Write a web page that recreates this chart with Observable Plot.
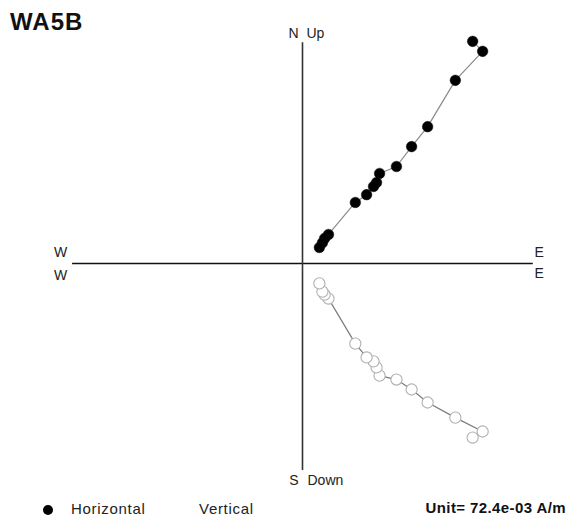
<!DOCTYPE html>
<html>
<head>
<meta charset="utf-8">
<script src="https://cdn.jsdelivr.net/npm/d3@7"></script>
<script src="https://cdn.jsdelivr.net/npm/@observablehq/plot@0.6"></script>
<style>
  html, body { margin: 0; padding: 0; background: #fff; }
  #wrap { position: relative; width: 568px; height: 522px; font-family: "Liberation Sans", Arial, sans-serif; }
  #wrap svg { position: absolute; left: 0; top: 0; }
  .title { position: absolute; left: 10px; top: 8px; font-size: 24px; font-weight: bold; color: #111; letter-spacing: 1px; }
  .legend { position: absolute; top: 500px; font-size: 15px; color: #222; letter-spacing: 0.7px; }
  .unit { position: absolute; top: 499px; right: 2px; font-size: 15px; font-weight: bold; color: #111; letter-spacing: 0.4px; }
  .ldot { position: absolute; left: 43px; top: 505px; width: 10px; height: 10px; border-radius: 50%; background: #000; }
</style>
</head>
<body>
<div id="wrap"></div>
<script>
// ---- data (units of 72.4e-03 A/m) ----
const sampleName = "WA5B";
const unitLabel = "Unit=  72.4e-03 A/m";
const seriesNames = ["Horizontal", "Vertical"];
const east  = [3.93, 4.16, 3.53, 2.89, 2.52, 2.17, 1.78, 1.71, 1.64, 1.48, 1.22, 0.60, 0.51, 0.46, 0.39];
const north = [5.13, 4.90, 4.23, 3.16, 2.70, 2.24, 2.08, 1.87, 1.78, 1.59, 1.41, 0.67, 0.58, 0.48, 0.37];
const up    = [-4.02, -3.88, -3.56, -3.21, -2.91, -2.68, -2.59, -2.40, -2.26, -2.17, -1.85, -0.81, -0.72, -0.65, -0.46];
const axisEnds = {west: -5.31, east: 5.33, north: 5.10, south: -4.78};
const axisLabels = {north: ["N", "Up"], south: ["S", "Down"], west: "W", east: "E"};

const horiz = east.map((e, i) => ({x: e, y: north[i]}));
const vert  = east.map((e, i) => ({x: e, y: up[i]}));

const W = 568, H = 522, ox = 302, oy = 263, pxPerUnit = 43.3;
const lab = {fontSize: 14, fill: "#222"};

const chart = Plot.plot({
  width: W, height: H,
  margin: 0,
  x: {domain: [-ox / pxPerUnit, (W - ox) / pxPerUnit], range: [0, W], axis: null},
  y: {domain: [-(H - oy) / pxPerUnit, oy / pxPerUnit], range: [H, 0], axis: null},
  style: {fontFamily: "'Liberation Sans', Arial, sans-serif", background: "transparent"},
  marks: [
    Plot.ruleY([0], {x1: axisEnds.west, x2: axisEnds.east, stroke: "#111", strokeWidth: 1.6}),
    Plot.ruleX([0], {y1: axisEnds.south, y2: axisEnds.north, stroke: "#333", strokeWidth: 1.6}),
    Plot.line(horiz, {x: "x", y: "y", stroke: "#8a8a8a", strokeWidth: 1.2}),
    Plot.line(vert, {x: "x", y: "y", stroke: "#7a7a7a", strokeWidth: 1.2}),
    Plot.dot(horiz, {x: "x", y: "y", r: 5.3, fill: "#000", stroke: "#111", strokeWidth: 0.5}),
    Plot.dot(vert, {x: "x", y: "y", r: 5.6, fill: "#fff", stroke: "#b0b0b0", strokeWidth: 1.1}),
    // axis end labels
    Plot.text([axisLabels.north[0]], {x: 0, y: axisEnds.north, text: d => d, textAnchor: "end", dx: -4, dy: -9, ...lab}),
    Plot.text([axisLabels.north[1]], {x: 0, y: axisEnds.north, text: d => d, textAnchor: "start", dx: 4, dy: -9, ...lab}),
    Plot.text([axisLabels.south[0]], {x: 0, y: axisEnds.south, text: d => d, textAnchor: "end", dx: -4, dy: 10, ...lab}),
    Plot.text([axisLabels.south[1]], {x: 0, y: axisEnds.south, text: d => d, textAnchor: "start", dx: 5, dy: 10, ...lab}),
    Plot.text([axisLabels.west], {x: axisEnds.west, y: 0, text: d => d, textAnchor: "middle", dx: -12, dy: -11, ...lab}),
    Plot.text([axisLabels.west], {x: axisEnds.west, y: 0, text: d => d, textAnchor: "middle", dx: -12, dy: 12, ...lab}),
    Plot.text([axisLabels.east], {x: axisEnds.east, y: 0, text: d => d, textAnchor: "middle", dx: 6, dy: -11, ...lab}),
    Plot.text([axisLabels.east], {x: axisEnds.east, y: 0, text: d => d, textAnchor: "middle", dx: 6, dy: 10, ...lab})
  ]
});

const wrap = document.getElementById("wrap");
wrap.appendChild(chart);

const t = document.createElement("div"); t.className = "title"; t.textContent = sampleName; wrap.appendChild(t);
const d1 = document.createElement("div"); d1.className = "ldot"; wrap.appendChild(d1);
const l1 = document.createElement("div"); l1.className = "legend"; l1.style.left = "71px"; l1.textContent = seriesNames[0]; wrap.appendChild(l1);
const l2 = document.createElement("div"); l2.className = "legend"; l2.style.left = "199px"; l2.textContent = seriesNames[1]; wrap.appendChild(l2);
const u = document.createElement("div"); u.className = "unit"; u.textContent = unitLabel; wrap.appendChild(u);
</script>
</body>
</html>
